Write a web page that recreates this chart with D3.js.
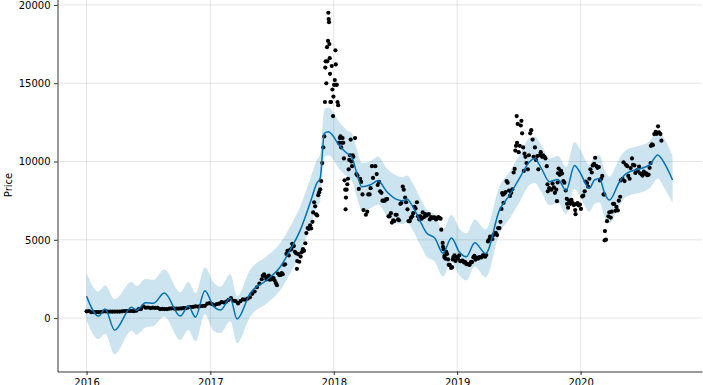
<!DOCTYPE html>
<html>
<head>
<meta charset="utf-8">
<script src="https://cdn.jsdelivr.net/npm/d3@7"></script>
<style>
  body { margin: 0; background: #fff; }
  text { font-family: "DejaVu Sans", sans-serif; }
</style>
</head>
<body>
<div id="container"></div>
<script>
/* CONSTANTS AND GLOBALS */
const width = 703,
  height = 385,
  margin = { top: -6.8, bottom: 13.5, left: 57.5, right: 1 };

/* DATA */
// observed daily closes, sampled (date, price)
const observed = [
  ["2016-01-01",434],["2016-01-08",453],["2016-01-15",374],["2016-01-22",382],["2016-01-29",379],
  ["2016-02-05",386],["2016-02-12",384],["2016-02-19",421],["2016-02-26",432],
  ["2016-03-04",410],["2016-03-11",419],["2016-03-18",408],["2016-03-25",417],
  ["2016-04-01",417],["2016-04-08",420],["2016-04-15",430],["2016-04-22",450],["2016-04-29",455],
  ["2016-05-06",460],["2016-05-13",455],["2016-05-20",442],["2016-05-27",473],
  ["2016-06-03",570],["2016-06-10",577],["2016-06-17",750],["2016-06-24",665],
  ["2016-07-01",676],["2016-07-08",640],["2016-07-15",664],["2016-07-22",651],["2016-07-29",655],
  ["2016-08-05",575],["2016-08-12",587],["2016-08-19",575],["2016-08-26",578],
  ["2016-09-02",600],["2016-09-09",623],["2016-09-16",607],["2016-09-23",603],["2016-09-30",610],
  ["2016-10-07",617],["2016-10-14",638],["2016-10-21",632],["2016-10-28",688],
  ["2016-11-04",703],["2016-11-11",716],["2016-11-18",750],["2016-11-25",739],
  ["2016-12-02",768],["2016-12-09",774],["2016-12-16",784],["2016-12-23",920],["2016-12-30",960],
  ["2017-01-06",892],["2017-01-13",823],["2017-01-20",895],["2017-01-27",920],
  ["2017-02-03",1015],["2017-02-10",998],["2017-02-17",1050],["2017-02-24",1170],
  ["2017-03-03",1275],["2017-03-10",1110],["2017-03-17",1080],["2017-03-24",937],["2017-03-31",1080],
  ["2017-04-07",1190],["2017-04-14",1180],["2017-04-21",1240],["2017-04-28",1330],
  ["2017-05-05",1550],["2017-05-12",1700],["2017-05-19",1970],["2017-05-26",2200],
  ["2017-06-02",2480],["2017-06-05",2700],["2017-06-09",2800],["2017-06-12",2650],["2017-06-16",2470],
  ["2017-06-19",2600],["2017-06-23",2710],["2017-06-26",2450],["2017-06-30",2480],
  ["2017-07-03",2580],["2017-07-07",2560],["2017-07-10",2400],["2017-07-14",2230],["2017-07-17",2100],
  ["2017-07-20",2850],["2017-07-24",2750],["2017-07-28",2760],["2017-07-31",2880],
  ["2017-08-03",2800],["2017-08-07",3400],["2017-08-10",3440],["2017-08-14",4100],["2017-08-17",4300],
  ["2017-08-21",4000],["2017-08-24",4350],["2017-08-28",4400],["2017-08-31",4750],
  ["2017-09-02",4580],["2017-09-05",4600],["2017-09-08",4230],["2017-09-11",4150],["2017-09-14",3150],
  ["2017-09-15",3640],["2017-09-18",4080],["2017-09-21",3600],["2017-09-25",3930],["2017-09-28",4200],
  ["2017-10-02",4400],["2017-10-05",4300],["2017-10-09",4780],["2017-10-12",5430],["2017-10-16",5750],
  ["2017-10-19",5700],["2017-10-23",5930],["2017-10-26",5730],["2017-10-30",6150],
  ["2017-11-01",6750],["2017-11-04",7400],["2017-11-07",7140],["2017-11-10",6620],["2017-11-13",6560],
  ["2017-11-16",7850],["2017-11-19",8040],["2017-11-22",8230],["2017-11-25",8750],["2017-11-28",9900],
  ["2017-12-01",10900],["2017-12-04",11600],["2017-12-06",13800],["2017-12-07",16000],["2017-12-08",16400],
  ["2017-12-10",15000],["2017-12-12",17300],["2017-12-13",16400],["2017-12-15",17700],["2017-12-16",19500],
  ["2017-12-17",19100],["2017-12-18",18900],["2017-12-19",17500],["2017-12-20",16600],["2017-12-21",15600],
  ["2017-12-22",13800],["2017-12-24",13800],["2017-12-26",16100],["2017-12-28",14600],["2017-12-30",12900],
  ["2017-12-31",14150],
  ["2018-01-02",14900],["2018-01-04",15200],["2018-01-06",17100],["2018-01-07",16200],["2018-01-08",14900],
  ["2018-01-10",14900],["2018-01-12",13800],["2018-01-14",13600],["2018-01-16",11200],["2018-01-17",11200],
  ["2018-01-19",11500],["2018-01-21",11600],["2018-01-23",10900],["2018-01-25",11200],["2018-01-27",11500],
  ["2018-01-29",11200],["2018-01-31",10200],
  ["2018-02-02",8800],["2018-02-04",8200],["2018-02-05",6950],["2018-02-06",7700],["2018-02-08",8200],
  ["2018-02-10",8550],["2018-02-12",8900],["2018-02-14",9500],["2018-02-16",10100],["2018-02-18",10400],
  ["2018-02-20",11400],["2018-02-22",10000],["2018-02-24",9700],["2018-02-26",10400],["2018-02-28",10300],
  ["2018-03-05",11500],["2018-03-09",9200],["2018-03-12",9100],["2018-03-16",8250],["2018-03-20",8900],
  ["2018-03-23",8700],["2018-03-27",7900],["2018-03-30",6900],
  ["2018-04-06",6600],["2018-04-10",6800],["2018-04-13",7900],["2018-04-17",7900],["2018-04-20",8300],
  ["2018-04-24",9700],["2018-04-27",8950],
  ["2018-05-04",9700],["2018-05-08",9200],["2018-05-11",8500],["2018-05-15",8700],["2018-05-18",8100],
  ["2018-05-22",8000],["2018-05-25",7500],["2018-05-29",7500],
  ["2018-06-01",7500],["2018-06-05",7600],["2018-06-08",7600],["2018-06-12",6500],["2018-06-15",6500],
  ["2018-06-19",6700],["2018-06-22",6100],["2018-06-26",6250],["2018-06-29",6200],
  ["2018-07-03",6600],["2018-07-06",6600],["2018-07-10",6300],["2018-07-13",6250],["2018-07-17",7300],
  ["2018-07-20",7350],["2018-07-24",8400],["2018-07-27",8200],["2018-07-31",7700],
  ["2018-08-03",7400],["2018-08-07",6950],["2018-08-10",6200],["2018-08-14",6200],["2018-08-17",6400],
  ["2018-08-21",6500],["2018-08-24",6700],["2018-08-28",7100],["2018-08-31",7000],
  ["2018-09-04",7400],["2018-09-07",6500],["2018-09-11",6300],["2018-09-14",6500],["2018-09-18",6350],
  ["2018-09-21",6750],["2018-09-25",6450],["2018-09-28",6650],
  ["2018-10-02",6550],["2018-10-05",6600],["2018-10-09",6650],["2018-10-12",6300],["2018-10-16",6450],
  ["2018-10-19",6400],["2018-10-23",6420],["2018-10-26",6430],["2018-10-30",6300],
  ["2018-11-02",6350],["2018-11-06",6450],["2018-11-09",6400],["2018-11-13",6350],["2018-11-15",5650],
  ["2018-11-19",4800],["2018-11-20",4550],["2018-11-22",4400],["2018-11-24",3900],["2018-11-25",4000],
  ["2018-11-27",3800],["2018-11-29",4250],
  ["2018-12-02",4100],["2018-12-05",3750],["2018-12-07",3400],["2018-12-10",3400],["2018-12-14",3200],
  ["2018-12-17",3250],["2018-12-19",3750],["2018-12-21",3900],["2018-12-24",4000],["2018-12-27",3650],
  ["2018-12-30",3900],
  ["2019-01-03",3800],["2019-01-07",4000],["2019-01-10",3630],["2019-01-14",3650],["2019-01-17",3680],
  ["2019-01-21",3550],["2019-01-24",3600],["2019-01-28",3450],["2019-01-31",3470],
  ["2019-02-04",3420],["2019-02-07",3400],["2019-02-11",3600],["2019-02-14",3580],["2019-02-18",3880],
  ["2019-02-21",3980],["2019-02-24",3730],["2019-02-28",3850],
  ["2019-03-04",3800],["2019-03-07",3890],["2019-03-11",3880],["2019-03-14",3880],["2019-03-18",4000],
  ["2019-03-21",4000],["2019-03-25",3920],["2019-03-28",4030],
  ["2019-04-02",4900],["2019-04-04",4980],["2019-04-08",5200],["2019-04-11",5050],["2019-04-15",5050],
  ["2019-04-18",5300],["2019-04-22",5400],["2019-04-25",5450],["2019-04-29",5300],
  ["2019-05-02",5750],["2019-05-06",5750],["2019-05-09",6150],["2019-05-12",6970],["2019-05-14",7990],
  ["2019-05-16",7880],["2019-05-18",7360],["2019-05-21",7950],["2019-05-24",8050],["2019-05-27",8750],
  ["2019-05-30",8650],
  ["2019-06-03",8150],["2019-06-06",7800],["2019-06-10",8000],["2019-06-13",8230],["2019-06-17",9300],
  ["2019-06-20",9530],["2019-06-22",10700],["2019-06-24",11000],["2019-06-26",12900],["2019-06-27",11200],
  ["2019-06-29",12400],
  ["2019-07-02",10600],["2019-07-05",11000],["2019-07-08",12300],["2019-07-10",12600],["2019-07-12",11800],
  ["2019-07-15",10900],["2019-07-17",9400],["2019-07-19",10500],["2019-07-22",10300],["2019-07-25",9900],
  ["2019-07-29",9500],
  ["2019-08-01",10400],["2019-08-05",11800],["2019-08-08",12000],["2019-08-12",11400],["2019-08-15",10300],
  ["2019-08-19",10900],["2019-08-22",10100],["2019-08-26",10350],["2019-08-29",9500],
  ["2019-09-02",10400],["2019-09-05",10600],["2019-09-09",10300],["2019-09-12",10400],["2019-09-16",10300],
  ["2019-09-19",10200],["2019-09-23",9700],["2019-09-25",8550],["2019-09-26",8100],["2019-09-30",8300],
  ["2019-10-03",8230],["2019-10-07",8200],["2019-10-10",8590],["2019-10-14",8350],["2019-10-17",8000],
  ["2019-10-21",8200],["2019-10-23",7470],["2019-10-25",8660],["2019-10-26",9250],["2019-10-28",9550],
  ["2019-10-31",9150],
  ["2019-11-04",9400],["2019-11-07",9230],["2019-11-11",8750],["2019-11-14",8650],["2019-11-18",8150],
  ["2019-11-21",7620],["2019-11-22",7300],["2019-11-25",7050],["2019-11-28",7500],
  ["2019-12-02",7300],["2019-12-05",7550],["2019-12-09",7350],["2019-12-12",7220],["2019-12-16",6900],
  ["2019-12-17",6640],["2019-12-19",7280],["2019-12-23",7350],["2019-12-26",7200],["2019-12-30",7250],
  ["2020-01-02",6970],["2020-01-06",7770],["2020-01-09",7820],["2020-01-13",8100],["2020-01-16",8720],
  ["2020-01-20",8630],["2020-01-23",8400],["2020-01-27",8900],["2020-01-30",9500],
  ["2020-02-03",9300],["2020-02-06",9750],["2020-02-10",9850],["2020-02-13",10240],["2020-02-17",9700],
  ["2020-02-20",9600],["2020-02-24",9650],["2020-02-27",8790],
  ["2020-03-02",8900],["2020-03-05",9080],["2020-03-09",7900],["2020-03-11",7900],["2020-03-12",4970],
  ["2020-03-13",5560],["2020-03-16",5010],["2020-03-19",6190],["2020-03-23",6500],["2020-03-26",6760],
  ["2020-03-30",6420],
  ["2020-04-02",6800],["2020-04-06",7300],["2020-04-09",7300],["2020-04-13",6850],["2020-04-16",7100],
  ["2020-04-20",6880],["2020-04-23",7500],["2020-04-27",7750],["2020-04-29",8800],
  ["2020-05-04",8900],["2020-05-07",9950],["2020-05-10",8750],["2020-05-14",9790],["2020-05-18",9700],
  ["2020-05-21",9080],["2020-05-25",8900],["2020-05-28",9580],
  ["2020-06-01",10200],["2020-06-04",9790],["2020-06-08",9750],["2020-06-11",9270],["2020-06-15",9430],
  ["2020-06-18",9410],["2020-06-22",9680],["2020-06-25",9250],["2020-06-29",9190],
  ["2020-07-02",9100],["2020-07-06",9350],["2020-07-09",9240],["2020-07-13",9250],["2020-07-16",9130],
  ["2020-07-20",9160],["2020-07-23",9600],["2020-07-26",9900],["2020-07-27",11000],["2020-07-30",11100],
  ["2020-08-02",11050],["2020-08-06",11750],["2020-08-10",11900],["2020-08-13",11770],["2020-08-17",12250],
  ["2020-08-20",11870],["2020-08-24",11750],["2020-08-27",11330]
];

// forecast
const forecastDates = [
  "2016-01-01","2016-02-05","2016-02-25","2016-03-24","2016-05-13","2016-05-28","2016-06-23","2016-07-17",
  "2016-08-18","2016-10-04","2016-10-28","2016-11-18","2016-12-16","2017-01-10","2017-01-31","2017-03-01",
  "2017-03-21","2017-04-29","2017-06-17","2017-07-27","2017-08-25","2017-09-24","2017-10-23","2017-11-12",
  "2017-11-22","2017-12-04","2017-12-16","2018-01-20","2018-02-09","2018-02-23","2018-03-10","2018-03-25",
  "2018-04-18","2018-05-12","2018-06-07","2018-07-06","2018-07-25","2018-08-05","2018-08-23","2018-09-12",
  "2018-10-02","2018-10-27","2018-11-20","2018-12-15","2019-01-08","2019-01-28","2019-02-22","2019-03-26",
  "2019-05-06","2019-06-05","2019-07-04","2019-08-03","2019-08-18","2019-09-07","2019-10-01","2019-10-26",
  "2019-11-19","2019-12-14","2019-12-29","2020-01-27","2020-02-11","2020-02-26","2020-03-12","2020-03-26",
  "2020-04-25","2020-05-10","2020-05-25","2020-06-13","2020-07-23","2020-08-16","2020-09-05","2020-09-29"
];
const yhat = [
  1400, 130, 580, -770, 700, 500, 980, 950,
  1600, 130, 770, 60, 1750, 770, 510, 1280,
  -60, 1600, 2430, 3280, 4350, 5620, 7350, 8620,
  8950, 11800, 11900, 10950, 10530, 10300, 9260, 8390,
  8500, 8770, 8070, 7580, 7500, 7600, 7110, 6260,
  5450, 5110, 4150, 5110, 4200, 3920, 4810, 4130,
  6900, 7860, 8920, 9990, 10200, 9560, 8710, 8860,
  8140, 9750, 9350, 8290, 8820, 8920, 7970, 7540,
  8710, 9140, 9350, 9460, 9780, 10420, 9880, 8820
];
const yhatUpper = [
  2880, 1700, 2100, 1200, 2300, 2050, 2500, 2450,
  3100, 1650, 2300, 1600, 3250, 2300, 2000, 2800,
  1400, 3100, 3950, 4800, 5850, 7150, 8850, 10100,
  10450, 13300, 13450, 12450, 12000, 11800, 10800, 9900,
  10000, 10300, 9550, 9100, 9000, 9100, 8600, 7750,
  6950, 6600, 5650, 6600, 5700, 5400, 6300, 5650,
  8400, 9350, 10400, 11500, 11600, 11050, 10200, 10350,
  9650, 11250, 10850, 9800, 10300, 10400, 9450, 9050,
  10200, 10650, 10850, 10950, 11300, 11950, 11450, 10350
];
const yhatLower = [
  -150, -1350, -1000, -2300, -800, -1050, -600, -500,
  100, -1400, -750, -1500, 250, -800, -950, -200,
  -1600, 100, 950, 1800, 2850, 4100, 5850, 7100,
  7450, 10300, 10400, 9450, 9050, 8800, 7750, 6900,
  7000, 7250, 6550, 6050, 6000, 6100, 5600, 4750,
  3950, 3600, 2650, 3600, 2700, 2400, 3300, 2600,
  5400, 6350, 7400, 8500, 8650, 8050, 7200, 7350,
  6650, 8250, 7850, 6800, 7300, 7400, 6450, 6050,
  7200, 7650, 7850, 7950, 8300, 8900, 8300, 7350
];

const yTicks = [0, 5000, 10000, 15000, 20000];
const xTicks = ["2016-01-01", "2017-01-01", "2018-01-01", "2019-01-01", "2020-01-01"];

const parse = d3.utcParse("%Y-%m-%d");

/* SCALES */
const xScale = d3.scaleUtc()
  .domain([parse("2015-10-07"), parse("2020-12-25")])
  .range([margin.left, width - margin.right])

const yScale = d3.scaleLinear()
  .domain([-3410, 20750])
  .range([height - margin.bottom, margin.top])

const fc = forecastDates.map((d, i) => ({
  ds: parse(d), yhat: yhat[i], lo: yhatLower[i], hi: yhatUpper[i]
}))
const obs = observed.map(d => ({ ds: parse(d[0]), y: d[1] }))

/* HTML ELEMENTS */
const svg = d3.select("#container")
  .append("svg")
  .attr("width", width)
  .attr("height", height)
  .style("background-color", "#fff")

// grid
svg.append("g")
  .selectAll("line.gx")
  .data(xTicks)
  .join("line")
  .attr("x1", d => xScale(parse(d)))
  .attr("x2", d => xScale(parse(d)))
  .attr("y1", yScale.range()[0])
  .attr("y2", yScale.range()[1])
  .attr("stroke", "#808080")
  .attr("stroke-opacity", 0.2)

svg.append("g")
  .selectAll("line.gy")
  .data(yTicks)
  .join("line")
  .attr("x1", xScale.range()[0])
  .attr("x2", xScale.range()[1])
  .attr("y1", d => yScale(d))
  .attr("y2", d => yScale(d))
  .attr("stroke", "#808080")
  .attr("stroke-opacity", 0.2)

// uncertainty band
svg.append("path")
  .datum(fc)
  .attr("fill", "#0072B2")
  .attr("fill-opacity", 0.2)
  .attr("d", d3.area()
    .curve(d3.curveMonotoneX)
    .x(d => xScale(d.ds))
    .y0(d => yScale(d.lo))
    .y1(d => yScale(d.hi)))

// observed points
svg.append("g")
  .selectAll("circle")
  .data(obs)
  .join("circle")
  .attr("cx", d => xScale(d.ds))
  .attr("cy", d => yScale(d.y))
  .attr("r", 2.1)
  .attr("fill", "#000")

// forecast line
svg.append("path")
  .datum(fc)
  .attr("fill", "none")
  .attr("stroke", "#0072B2")
  .attr("stroke-width", 1.5)
  .attr("d", d3.line()
    .curve(d3.curveMonotoneX)
    .x(d => xScale(d.ds))
    .y(d => yScale(d.yhat)))

// x axis
const xAxis = svg.append("g")
  .attr("transform", `translate(0,${height - margin.bottom})`)
  .call(d3.axisBottom(xScale)
    .tickValues(xTicks.map(parse))
    .tickFormat(d3.utcFormat("%Y"))
    .tickSize(3.5)
    .tickSizeOuter(0)
    .tickPadding(3.5))

// y axis
const yAxis = svg.append("g")
  .attr("transform", `translate(${margin.left},0)`)
  .call(d3.axisLeft(yScale)
    .tickValues(yTicks)
    .tickFormat(d => d)
    .tickSize(3.5)
    .tickSizeOuter(0)
    .tickPadding(3.5))

svg.selectAll(".tick text")
  .attr("font-size", 10)
  .attr("font-family", "DejaVu Sans")
  .attr("fill", "#000")
svg.selectAll(".domain, .tick line")
  .attr("stroke", "#000")
  .attr("stroke-width", 0.8)

// y label
svg.append("text")
  .attr("transform", "translate(12,185) rotate(-90)")
  .attr("text-anchor", "middle")
  .attr("font-size", 10)
  .text("Price")
</script>
</body>
</html>
